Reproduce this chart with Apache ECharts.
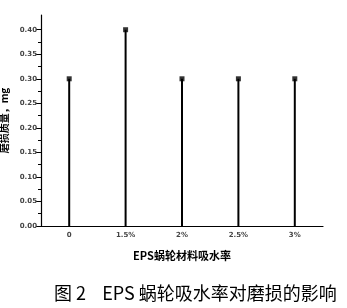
<!DOCTYPE html>
<html><head><meta charset="utf-8">
<script src="https://cdn.jsdelivr.net/npm/echarts@6/dist/echarts.min.js"></script>
<style>html,body{margin:0;padding:0;background:#fff}#c{width:347px;height:308px}</style>
</head><body><div id="c"></div>
<script>
var categories = ['0', '1.5%', '2%', '2.5%', '3%'];
var wearValues = [0.30, 0.40, 0.30, 0.30, 0.30];
var yTickMax = 0.40;
var yAxisMax = 0.43;
var xName = 'EPS蜗轮材料吸水率';
var yName = '磨损质量，mg';
var caption = '图 2    EPS 蜗轮吸水率对磨损的影响';

var chart = echarts.init(document.getElementById('c'));
var gTop = 15, gBottom = 82, gH = 308 - gTop - gBottom;
var topB = gTop + gH * (1 - yTickMax / yAxisMax);
var lab = {fontSize: 7, color: '#444', fontFamily: 'DejaVu Sans', fontWeight: 'bold'};
chart.setOption({
  animation: false,
  grid: [
    {left: 41, right: 24, top: gTop, bottom: gBottom, outerBoundsMode: 'none', containLabel: false},
    {left: 41, right: 24, top: topB, bottom: gBottom, outerBoundsMode: 'none', containLabel: false}
  ],
  title: {text: caption, left: 54, top: 284, padding: 0,
    textStyle: {fontSize: 18, fontWeight: 'normal', color: '#000', fontFamily: 'Noto Sans CJK SC'}},
  xAxis: [
    {type: 'category', gridIndex: 0, data: categories, boundaryGap: true,
     axisLine: {lineStyle: {color: '#000', width: 1.2}},
     axisTick: {alignWithLabel: true, length: 5, lineStyle: {color: '#000'}},
     axisLabel: Object.assign({margin: 6}, lab),
     name: xName, nameLocation: 'middle', nameGap: 24,
     nameTextStyle: {fontSize: 11, fontWeight: 'bold', color: '#000', fontFamily: 'Noto Sans CJK SC'}},
    {type: 'category', gridIndex: 0, data: categories, boundaryGap: true, position: 'bottom',
     axisLine: {show: false}, axisTick: {length: 3, lineStyle: {color: '#000'}}, axisLabel: {show: false}},
    {type: 'category', gridIndex: 1, data: categories, show: false}
  ],
  yAxis: [
    {type: 'value', gridIndex: 0, min: 0, max: yAxisMax,
     axisLine: {show: true, lineStyle: {color: '#000', width: 1.2}},
     axisTick: {show: false}, axisLabel: {show: false}, splitLine: {show: false},
     name: yName, nameLocation: 'middle', nameGap: 32, nameRotate: 90,
     nameTextStyle: {fontSize: 10, fontWeight: 'bold', color: '#000', fontFamily: 'Noto Sans CJK SC'}},
    {type: 'value', gridIndex: 1, min: 0, max: yTickMax, interval: 0.05,
     axisLine: {show: false},
     axisTick: {show: true, length: 5, lineStyle: {color: '#000'}},
     minorTick: {show: true, splitNumber: 2, length: 3, lineStyle: {color: '#000'}},
     axisLabel: Object.assign({margin: 4, formatter: function (v) { return v.toFixed(2); }}, lab),
     splitLine: {show: false}}
  ],
  series: [
    {type: 'bar', xAxisIndex: 0, yAxisIndex: 0, data: wearValues, barWidth: 2,
     itemStyle: {color: '#000'}},
    {type: 'scatter', xAxisIndex: 0, yAxisIndex: 0, data: wearValues, symbol: 'rect', symbolSize: 5,
     itemStyle: {color: '#000'}}
  ]
});
</script></body></html>
